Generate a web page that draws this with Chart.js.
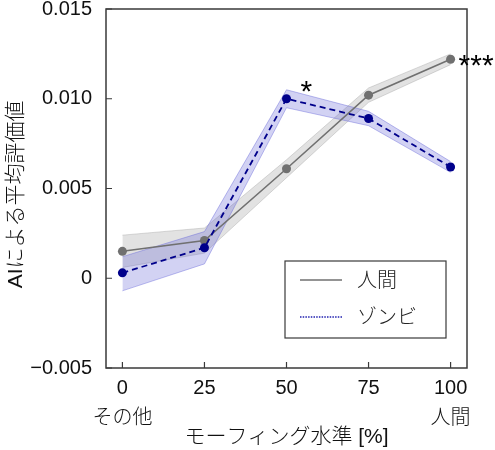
<!DOCTYPE html>
<html>
<head>
<meta charset="utf-8">
<script src="https://cdn.jsdelivr.net/npm/chart.js@4"></script>
<style>
  html, body { margin: 0; padding: 0; background: #fff; }
  #wrap { width: 495px; height: 450px; }
</style>
</head>
<body>
<div id="wrap"><canvas id="chart"></canvas></div>
<script>
// morphing levels on the x axis
const levels = [0, 25, 50, 75, 100];
const levelSubLabels = ['その他', '', '', '', '人間'];
const yTicks = [-0.005, 0, 0.005, 0.010, 0.015];

// 人間 (human) series
const humanMean  = [0.0015, 0.0021, 0.0061, 0.0102, 0.0122];
const humanUpper = [0.0024, 0.0028, 0.0066, 0.0106, 0.0125];
const humanLower = [0.0006, 0.0014, 0.0056, 0.0098, 0.0119];

// ゾンビ (zombie) series
const zombieMean  = [0.0003, 0.0017, 0.0100, 0.0089, 0.0062];
const zombieUpper = [0.0012, 0.0026, 0.0105, 0.0093, 0.0065];
const zombieLower = [-0.0007, 0.0008, 0.0095, 0.0085, 0.0059];

// significance marks: [level, value, text]
const sigMarks = [
    [50, 0.0100, '*'],
    [100, 0.0122, '***']
];

const FONT = "'Liberation Sans', Arial, 'Noto Sans CJK JP', sans-serif";
const JP_FONT = "'Liberation Sans', 'Noto Sans CJK JP', sans-serif";
const FRAME = '#3a3a3a';

const toPoints = arr => arr.map((v, i) => ({ x: levels[i], y: v }));

function formatY(v) {
    const r = Math.round(v * 1000) / 1000;
    if (r === 0) return '0';
    if (r < 0) return '\u2212' + Math.abs(r).toFixed(3);
    return r.toFixed(3);
}

const framePlugin = {
    id: 'frame',
    afterDraw(chart) {
        const { ctx, chartArea: a, scales } = chart;
        ctx.save();
        // box
        ctx.strokeStyle = FRAME;
        ctx.lineWidth = 1.5;
        ctx.strokeRect(a.left, a.top, a.right - a.left, a.bottom - a.top);
        // inward ticks
        ctx.lineWidth = 1.2;
        ctx.beginPath();
        levels.forEach(v => {
            const x = scales.x.getPixelForValue(v);
            ctx.moveTo(x, a.bottom);
            ctx.lineTo(x, a.bottom - 6);
        });
        yTicks.forEach(v => {
            const y = scales.y.getPixelForValue(v);
            ctx.moveTo(a.left, y);
            ctx.lineTo(a.left + 6, y);
        });
        ctx.stroke();

        // significance stars
        ctx.fillStyle = '#000';
        ctx.font = '30px ' + FONT;
        ctx.textBaseline = 'middle';
        ctx.textAlign = 'left';
        sigMarks.forEach(([lv, val, txt]) => {
            const x = scales.x.getPixelForValue(lv);
            const y = scales.y.getPixelForValue(val);
            if (lv === 100) ctx.fillText(txt, x + 8, y + 7);
            else ctx.fillText(txt, x + 14, y - 6);
        });

        // legend box
        const lx = 285, ly = 261, lw = 161, lh = 77;
        ctx.fillStyle = '#fff';
        ctx.fillRect(lx, ly, lw, lh);
        ctx.strokeStyle = FRAME;
        ctx.lineWidth = 1.2;
        ctx.strokeRect(lx, ly, lw, lh);

        ctx.lineWidth = 1.6;
        ctx.strokeStyle = '#707070';
        ctx.beginPath();
        ctx.moveTo(300, 280);
        ctx.lineTo(342, 280);
        ctx.stroke();

        ctx.strokeStyle = '#2020b0';
        ctx.setLineDash([1.5, 1.2]);
        ctx.beginPath();
        ctx.moveTo(300, 317);
        ctx.lineTo(342, 317);
        ctx.stroke();
        ctx.setLineDash([]);

        ctx.fillStyle = '#222';
        ctx.font = '300 20px ' + JP_FONT;
        ctx.fillText('人間', 357, 281);
        ctx.fillText('ゾンビ', 357, 318);
        ctx.restore();
    }
};

new Chart(document.getElementById('chart'), {
    type: 'line',
    data: {
        datasets: [
            {
                label: 'human-upper',
                data: toPoints(humanUpper),
                borderColor: 'rgba(150,150,150,0.35)',
                borderWidth: 1,
                pointRadius: 0,
                fill: false,
                order: 6
            },
            {
                label: 'human-lower',
                data: toPoints(humanLower),
                borderColor: 'rgba(150,150,150,0.35)',
                backgroundColor: 'rgba(160,160,160,0.3)',
                borderWidth: 1,
                pointRadius: 0,
                fill: '-1',
                order: 5
            },
            {
                label: 'zombie-upper',
                data: toPoints(zombieUpper),
                borderColor: 'rgba(110,110,220,0.45)',
                borderWidth: 1,
                pointRadius: 0,
                fill: false,
                order: 4
            },
            {
                label: 'zombie-lower',
                data: toPoints(zombieLower),
                borderColor: 'rgba(110,110,220,0.45)',
                backgroundColor: 'rgba(90,90,210,0.27)',
                borderWidth: 1,
                pointRadius: 0,
                fill: '-1',
                order: 3
            },
            {
                label: '人間',
                data: toPoints(humanMean),
                borderColor: '#707070',
                backgroundColor: '#707070',
                borderWidth: 1.6,
                pointRadius: 4.5,
                pointBorderWidth: 0,
                fill: false,
                order: 1
            },
            {
                label: 'ゾンビ',
                data: toPoints(zombieMean),
                borderColor: '#00008b',
                backgroundColor: '#00008b',
                borderWidth: 1.8,
                borderDash: [6, 4],
                pointRadius: 4.5,
                pointBorderWidth: 0,
                fill: false,
                order: 0
            }
        ]
    },
    options: {
        responsive: true,
        maintainAspectRatio: false,
        animation: false,
        layout: { padding: { top: 9, right: 28, left: 0, bottom: 0 } },
        plugins: {
            legend: { display: false },
            tooltip: { enabled: false }
        },
        scales: {
            x: {
                type: 'linear',
                min: -5,
                max: 105,
                afterBuildTicks: s => { s.ticks = levels.map(v => ({ value: v })); },
                afterFit: s => { s.height = 82; s.paddingLeft = 0; s.paddingRight = 0; },
                grid: { display: false, drawTicks: false },
                border: { display: false },
                ticks: {
                    color: '#111',
                    padding: 5,
                    maxRotation: 0,
                    autoSkip: false,
                    font: { family: JP_FONT, size: 20, weight: '300', lineHeight: 1.5 },
                    callback: v => {
                        const i = levels.indexOf(v);
                        return levelSubLabels[i] ? [String(v), levelSubLabels[i]] : String(v);
                    }
                },
                title: {
                    display: true,
                    text: 'モーフィング水準 [%]',
                    color: '#111',
                    font: { family: JP_FONT, size: 21, weight: '300' },
                    padding: { top: 0, bottom: 0 }
                }
            },
            y: {
                min: -0.005,
                max: 0.015,
                afterBuildTicks: s => { s.ticks = yTicks.map(v => ({ value: v })); },
                afterFit: s => { s.width = 106; s.paddingTop = 0; s.paddingBottom = 0; },
                grid: { display: false, drawTicks: false },
                border: { display: false },
                ticks: {
                    color: '#111',
                    padding: 14,
                    font: { family: FONT, size: 20 },
                    callback: v => formatY(v)
                },
                title: {
                    display: true,
                    text: 'AIによる平均評価値  ',
                    color: '#111',
                    font: { family: JP_FONT, size: 21, weight: '300' },
                    padding: { top: 4, bottom: 0 }
                }
            }
        }
    },
    plugins: [framePlugin]
});
</script>
</body>
</html>
